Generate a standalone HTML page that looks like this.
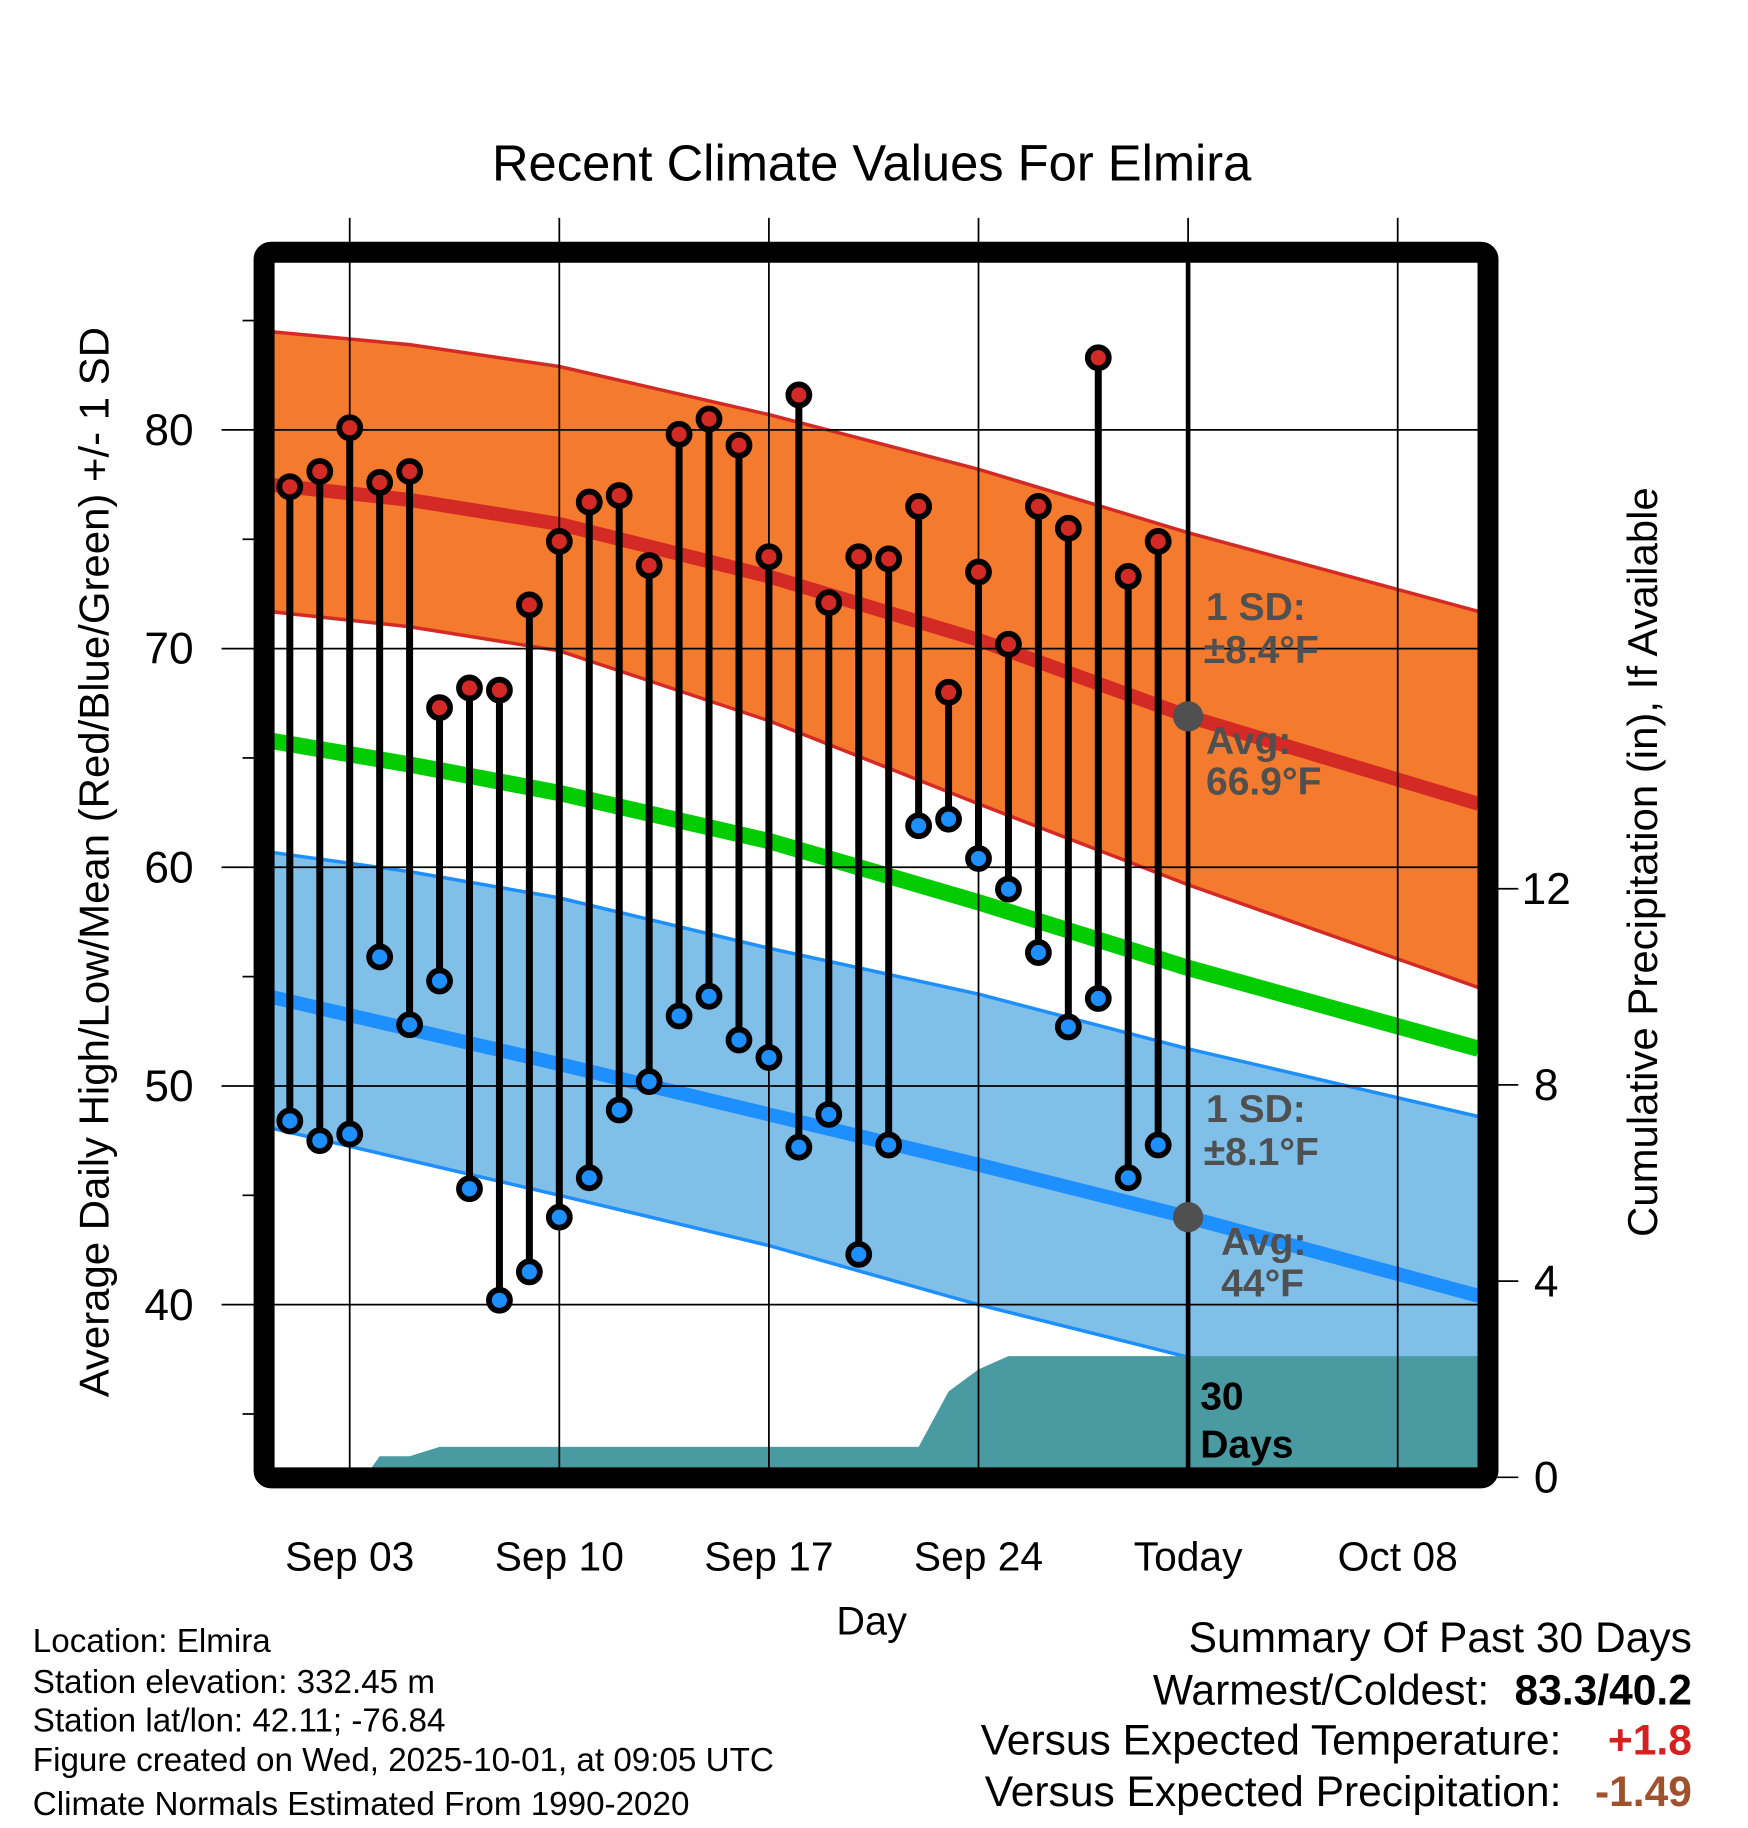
<!DOCTYPE html>
<html><head><meta charset="utf-8"><style>
html,body{margin:0;padding:0;background:#fff}
svg{display:block;font-family:"Liberation Sans",sans-serif}
</style></head><body>
<svg id="chart" width="1748" height="1828" viewBox="0 0 1500 1569" xmlns="http://www.w3.org/2000/svg">
<defs><clipPath id="plotclip"><rect x="231" y="221" width="1037" height="1039"/></clipPath></defs>
<rect width="1500" height="1569" fill="#fff"/>
<g id="bands" clip-path="url(#plotclip)"></g>
<g id="grid"></g>
<g id="marks"></g>
<g id="labels"></g>
<rect x="226.5" y="216.5" width="1050.5" height="1052" rx="6" fill="none" stroke="#000" stroke-width="18"/>
<text x="748" y="155" font-size="43.5" text-anchor="middle">Recent Climate Values For Elmira</text>
<text x="748" y="1403" font-size="34" text-anchor="middle">Day</text>
<text transform="translate(93,740) rotate(-90)" font-size="36" text-anchor="middle">Average Daily High/Low/Mean (Red/Blue/Green) +/- 1 SD</text>
<text transform="translate(1422,740) rotate(-90)" font-size="36" text-anchor="middle">Cumulative Precipitation (in), If Available</text>
<g font-size="28.5">
<text x="28" y="1418">Location: Elmira</text>
<text x="28" y="1453">Station elevation: 332.45 m</text>
<text x="28" y="1486">Station lat/lon: 42.11; -76.84</text>
<text x="28" y="1520">Figure created on Wed, 2025-10-01, at 09:05 UTC</text>
<text x="28" y="1558">Climate Normals Estimated From 1990-2020</text>
</g>
<g font-size="36.5">
<text x="1452" y="1418" text-anchor="end">Summary Of Past 30 Days</text>
<text x="1278" y="1463" text-anchor="end">Warmest/Coldest:</text>
<text x="1452" y="1463" text-anchor="end" font-weight="bold">83.3/40.2</text>
<text x="1340" y="1506" text-anchor="end">Versus Expected Temperature:</text>
<text x="1452" y="1506" text-anchor="end" font-weight="bold" fill="#d62020">+1.8</text>
<text x="1340" y="1550" text-anchor="end">Versus Expected Precipitation:</text>
<text x="1452" y="1550" text-anchor="end" font-weight="bold" fill="#a0522d">-1.49</text>
</g>
</svg>
<script>
const highs=[77.4,78.1,80.1,77.6,78.1,67.3,68.2,68.1,72.0,74.9,76.7,77.0,73.8,79.8,80.5,79.3,74.2,81.6,72.1,74.2,74.1,76.5,68.0,73.5,70.2,76.5,75.5,83.3,73.3,74.9];
const lows=[48.4,47.5,47.8,55.9,52.8,54.8,45.3,40.2,41.5,44.0,45.8,48.9,50.2,53.2,54.1,52.1,51.3,47.2,48.7,42.3,47.3,61.9,62.2,60.4,59.0,56.1,52.7,54.0,45.8,47.3];
const normDays=[0.3,5,10,17,24,31,40.7];
const normHighUpper=[84.5,83.9,82.9,80.7,78.2,75.3,71.7];
const normHigh=[77.5,76.8,75.7,73.3,70.4,66.9,62.9];
const normHighLower=[71.7,71.0,69.9,66.7,62.9,59.2,54.5];
const normMean=[65.8,64.7,63.4,61.2,58.4,55.4,51.7];
const normLowUpper=[60.7,59.8,58.6,56.3,54.2,51.7,48.6];
const normLow=[54.1,52.6,51.0,48.7,46.4,44.0,40.4];
const normLowLower=[48.1,46.6,45.0,42.7,40.0,37.6,34.4];
const precipDays=[3.5,4,5,6,22,23,24,25,40.7];
const precipCum=[0,0.43,0.43,0.62,0.62,1.75,2.2,2.47,2.47];
const xTickDays=[3,10,17,24,31,38];
const xTickLabels=["Sep 03","Sep 10","Sep 17","Sep 24","Today","Oct 08"];
const yTicks=[40,50,60,70,80];
const y2Ticks=[0,4,8,12];
const todayDay=31;

const NS="http://www.w3.org/2000/svg";
const X=d=>248.6+(d-1)*25.7;
const Y=t=>369+(80-t)*18.77;
const Y2=p=>1268-p*42.1;
function mk(tag,attrs,parent){const e=document.createElementNS(NS,tag);for(const k in attrs)e.setAttribute(k,attrs[k]);parent.appendChild(e);return e;}
const bands=document.getElementById('bands'),grid=document.getElementById('grid'),marks=document.getElementById('marks'),labels=document.getElementById('labels');
function line(arr){return normDays.map((d,i)=>X(d)+','+Y(arr[i])).join(' ');}
function band(up,lo,fill,stroke,name){
  const pts=normDays.map((d,i)=>X(d)+','+Y(up[i])).concat(normDays.slice().reverse().map((d,j)=>{const i=normDays.length-1-j;return X(d)+','+Y(lo[i]);}));
  const p=mk('polygon',{points:pts.join(' '),fill:fill},bands);
  
  
  const a=mk('polyline',{points:line(up),fill:'none',stroke:stroke,'stroke-width':3},bands);
  
  
  const b=mk('polyline',{points:line(lo),fill:'none',stroke:stroke,'stroke-width':3},bands);
  
  
}
band(normHighUpper,normHighLower,'#f47a2e','#d42a25','high-sd-band');
band(normLowUpper,normLowLower,'#80c0e8','#1e8fff','low-sd-band');
let l=mk('polyline',{points:line(normHigh),fill:'none',stroke:'#d42a25','stroke-width':12},bands);


l=mk('polyline',{points:line(normLow),fill:'none',stroke:'#1e8fff','stroke-width':12},bands);


l=mk('polyline',{points:line(normMean),fill:'none',stroke:'#00cc00','stroke-width':14},bands);


const pp=[X(precipDays[0])+','+Y2(-1)].concat(precipDays.map((d,i)=>X(d)+','+Y2(precipCum[i]))).concat([X(precipDays[precipDays.length-1])+','+Y2(-1)]);
const pr=mk('polygon',{points:pp.join(' '),fill:'#4a9aa2'},bands);


xTickDays.forEach((d,i)=>{
  const g=mk('line',{x1:X(d),x2:X(d),y1:187,y2:1260,stroke:'#000','stroke-width':1.5},grid);
  
  
  const t=mk('text',{x:X(d),y:1348,'font-size':35,'text-anchor':'middle'},labels);
  t.textContent=xTickLabels[i];
  
  
});
yTicks.forEach(v=>{
  const g=mk('line',{x1:190,x2:1268,y1:Y(v),y2:Y(v),stroke:'#000','stroke-width':1.5},grid);
  
  
  const t=mk('text',{x:166,y:Y(v)+13,'font-size':38,'text-anchor':'end'},labels);
  t.textContent=v;
  
  
});
for(let v=35;v<=85;v+=10){
  const g=mk('line',{x1:208,x2:218,y1:Y(v),y2:Y(v),stroke:'#000','stroke-width':1.5},grid);
  
  
}
y2Ticks.forEach(v=>{
  const g=mk('line',{x1:1285,x2:1303,y1:Y2(v),y2:Y2(v),stroke:'#000','stroke-width':1.5},grid);
  
  
  const t=mk('text',{x:1327,y:Y2(v)+13,'font-size':38,'text-anchor':'middle'},labels);
  t.textContent=v;
  
  
});
const td=mk('line',{x1:X(todayDay),x2:X(todayDay),y1:221,y2:1260,stroke:'#000','stroke-width':4},grid);


highs.forEach((h,i)=>{
  const x=X(i+1);
  const s=mk('line',{x1:x,x2:x,y1:Y(h),y2:Y(lows[i]),stroke:'#000','stroke-width':6},marks);
  
  
});
highs.forEach((h,i)=>{
  const x=X(i+1);
  const c=mk('circle',{cx:x,cy:Y(h),r:9,fill:'#d42a25',stroke:'#000','stroke-width':5},marks);
  
  
  const c2=mk('circle',{cx:x,cy:Y(lows[i]),r:9,fill:'#1e8fff',stroke:'#000','stroke-width':5},marks);
  
  
});
const dh=mk('circle',{cx:X(todayDay),cy:Y(normHigh[5]),r:13,fill:'#505050'},marks);


const dl=mk('circle',{cx:X(todayDay),cy:Y(normLow[5]),r:13,fill:'#505050'},marks);


const ann=[["1 SD:",1035,532,'#505050'],["±8.4°F",1033,569,'#505050'],["Avg:",1035,647,'#505050'],["66.9°F",1035,682,'#505050'],
["1 SD:",1035,963,'#505050'],["±8.1°F",1033,1000,'#505050'],["Avg:",1048,1077,'#505050'],["44°F",1048,1113,'#505050'],
["30",1030,1210,'#000'],["Days",1030,1251,'#000']];
ann.forEach(a=>{
  const t=mk('text',{x:a[1],y:a[2],'font-size':33.5,'font-weight':'bold',fill:a[3]},labels);
  t.textContent=a[0];
  
  
});
</script>
</body></html>
